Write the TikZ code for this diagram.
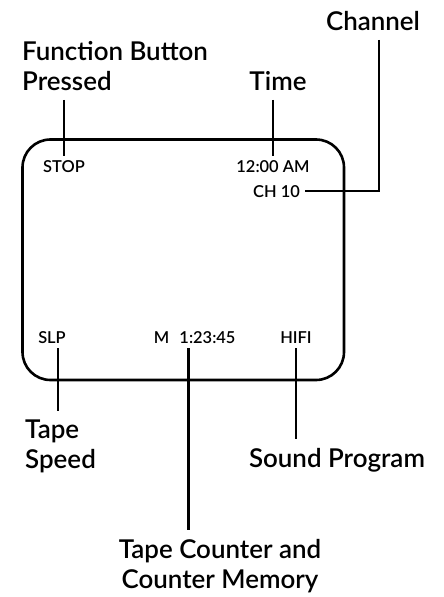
\documentclass[tikz,border=0pt]{standalone}
\usepackage{fontspec}
\setmainfont{Lato}
\newfontfamily\labelfont{Lato Semibold}
\usepackage{tikz}
\usetikzlibrary{positioning, calc}

\begin{document}
\begin{tikzpicture}[x=1bp, y=-1bp,
        screen/.style={rectangle, draw=black, line width=2.6bp, rounded corners=28bp, minimum width=321.5bp, minimum height=240.5bp},
        caption/.style={font=\labelfont\fontsize{26}{30}\selectfont, align=left, inner xsep=0pt, inner ysep=9bp},
        readout/.style={font=\labelfont\fontsize{16.5}{19}\selectfont, inner sep=5bp, anchor=base},
        lead/.style={line width=2.6bp, draw=black}
    ]
        \useasboundingbox (0,0) rectangle (444,597);

        % ----------------------------------------------------
        % SCREEN AND READOUTS
        % ----------------------------------------------------
        \node[screen] (screen) at (183.25, 259.75) {};

        \node[readout] (stop) at (64, 173) {STOP};
        \node[readout] (clock) at (273, 173) {12:00 AM};
        \node[readout] (ch) at (276.5, 197) {CH\ 10};

        \node[readout] (slp) at (52, 343) {SLP};
        \node[readout] (mem) at (161.5, 343) {M};
        \node[readout] (count) at (207.5, 343) {1:23:45};
        \node[readout] (hifi) at (296, 343) {HIFI};

        % ----------------------------------------------------
        % CAPTIONS (Top and Bottom)
        % ----------------------------------------------------
        \node[caption, anchor=south west] (func) at (22, 100) {Function Button\\Pressed};
        \node[caption, anchor=south] (time) at (278, 100) {Time};
        \node[caption, anchor=south] (channel) at (373, 40) {Channel};

        \node[caption, anchor=north west] (speed) at (25, 411) {Tape\\Speed};
        \node[caption, anchor=north] (sound) at (337, 439) {Sound Program};
        \node[caption, anchor=north, align=center] (counter) at (220, 530) {Tape Counter and\\Counter Memory};

        % ----------------------------------------------------
        % LEADER LINES
        % ----------------------------------------------------
        \draw[lead] (func.south -| stop.north) -- (stop.north);
        \draw[lead] (time.south -| clock.north) -- (clock.north);
        \draw[lead] ([xshift=6bp]channel.south) |- (ch.east);

        \coordinate (slptap) at ([xshift=6bp]slp.south);
        \draw[lead] (slptap) -- (slptap |- speed.north);
        \coordinate (counttap) at ([xshift=14bp]count.south west);
        \draw[lead] (counttap) -- (counttap |- counter.north);
        \draw[lead] (hifi.south) -- (hifi.south |- sound.north);

    \end{tikzpicture}
\end{document}
